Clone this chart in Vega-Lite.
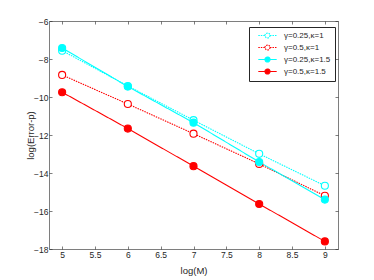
{
  "$schema": "https://vega.github.io/schema/vega-lite/v6.json",
  "autosize": "none",
  "width": 289,
  "height": 228,
  "padding": {"left": 49, "top": 21, "right": 36, "bottom": 31},
  "background": "white",
  "config": {
    "view": {"stroke": null},
    "font": "Liberation Sans",
    "axis": {
      "domainColor": "#262626",
      "domainWidth": 0.6,
      "tickColor": "#262626",
      "tickWidth": 0.6,
      "tickSize": -3,
      "labelColor": "#262626",
      "labelFontSize": 8.5,
      "labelFont": "Liberation Sans",
      "titleFont": "Liberation Sans",
      "titleFontWeight": "normal",
      "titleFontSize": 9.5,
      "titleColor": "#262626",
      "grid": false
    }
  },
  "data": {
    "values": [
      {"series": "γ=0.25,κ=1", "x": 5, "y": -7.56},
      {"series": "γ=0.25,κ=1", "x": 6, "y": -9.42},
      {"series": "γ=0.25,κ=1", "x": 7, "y": -11.22},
      {"series": "γ=0.25,κ=1", "x": 8, "y": -12.99},
      {"series": "γ=0.25,κ=1", "x": 9, "y": -14.67},
      {"series": "γ=0.5,κ=1", "x": 5, "y": -8.84},
      {"series": "γ=0.5,κ=1", "x": 6, "y": -10.37},
      {"series": "γ=0.5,κ=1", "x": 7, "y": -11.93},
      {"series": "γ=0.5,κ=1", "x": 8, "y": -13.52},
      {"series": "γ=0.5,κ=1", "x": 9, "y": -15.2},
      {"series": "γ=0.25,κ=1.5", "x": 5, "y": -7.42},
      {"series": "γ=0.25,κ=1.5", "x": 6, "y": -9.45},
      {"series": "γ=0.25,κ=1.5", "x": 7, "y": -11.35},
      {"series": "γ=0.25,κ=1.5", "x": 8, "y": -13.42},
      {"series": "γ=0.25,κ=1.5", "x": 9, "y": -15.4},
      {"series": "γ=0.5,κ=1.5", "x": 5, "y": -9.75},
      {"series": "γ=0.5,κ=1.5", "x": 6, "y": -11.66},
      {"series": "γ=0.5,κ=1.5", "x": 7, "y": -13.64},
      {"series": "γ=0.5,κ=1.5", "x": 8, "y": -15.63},
      {"series": "γ=0.5,κ=1.5", "x": 9, "y": -17.6}
    ]
  },
  "encoding": {
    "x": {"field": "x", "type": "quantitative", "scale": {"domain": [4.8, 9.2], "nice": false, "zero": false}},
    "y": {"field": "y", "type": "quantitative", "scale": {"domain": [-18, -6], "nice": false, "zero": false}}
  },
  "layer": [
    {
      "mark": {"type": "line", "strokeWidth": 1.1},
      "encoding": {
        "x": {"field": "x", "type": "quantitative", "axis": {"title": "log(M)", "format": "~g", "values": [5, 5.5, 6, 6.5, 7, 7.5, 8, 8.5, 9], "labelPadding": 4, "titlePadding": 7}},
        "y": {"field": "y", "type": "quantitative", "axis": {"title": "log(Error-p)", "values": [-18, -16, -14, -12, -10, -8, -6], "labelPadding": 4, "titlePadding": -2}},
        "color": {
          "field": "series", "type": "nominal",
          "scale": {"domain": ["γ=0.25,κ=1", "γ=0.5,κ=1", "γ=0.25,κ=1.5", "γ=0.5,κ=1.5"], "range": ["#00FFFF", "#FF0000", "#00FFFF", "#FF0000"]},
          "legend": {
            "title": null,
            "orient": "none",
            "legendX": 200,
            "legendY": 6,
            "fillColor": "white",
            "strokeColor": "#262626",
            "padding": 4,
            "symbolType": "M-2.6,0H-0.7M0.7,0H2.6M0.7,0A0.7,0.7 0 1 1 -0.7,0A0.7,0.7 0 1 1 0.7,0Z",
            "symbolSize": 100,
            "symbolStrokeWidth": 1.2,
            "symbolOffset": 10,
            "labelOffset": 12,
            "labelFontSize": 8,
            "labelColor": "#262626",
            "rowPadding": 1,
            "encode": {
              "symbols": {
                "update": {
                  "stroke": {"signal": "indexof(datum.value, '0.25') >= 0 ? '#00FFFF' : '#FF0000'"},
                  "fill": {"signal": "indexof(datum.value, '1.5') >= 0 ? (indexof(datum.value, '0.25') >= 0 ? '#00FFFF' : '#FF0000') : 'white'"},
                  "strokeDash": {"signal": "indexof(datum.value, '1.5') >= 0 ? [1, 0] : [1.5, 1]"},
                  "strokeWidth": {"value": 1.2},
                  "opacity": {"value": 1},
                  "strokeOpacity": {"value": 1}
                }
              }
            }
          }
        },
        "strokeDash": {
          "field": "series", "type": "nominal",
          "scale": {"domain": ["γ=0.25,κ=1", "γ=0.5,κ=1", "γ=0.25,κ=1.5", "γ=0.5,κ=1.5"], "range": [[1.5, 1], [1.5, 1], [1, 0], [1, 0]]},
          "legend": null
        }
      }
    },
    {
      "mark": {"type": "point", "shape": "circle", "strokeWidth": 1.1, "opacity": 1},
      "encoding": {
        "x": {"field": "x", "type": "quantitative", "axis": {"orient": "top", "labels": false, "title": null, "values": [5, 5.5, 6, 6.5, 7, 7.5, 8, 8.5, 9]}},
        "y": {"field": "y", "type": "quantitative", "axis": {"orient": "right", "labels": false, "title": null, "values": [-18, -16, -14, -12, -10, -8, -6]}},
        "color": {"field": "series", "type": "nominal"},
        "fill": {
          "field": "series", "type": "nominal",
          "scale": {"domain": ["γ=0.25,κ=1", "γ=0.5,κ=1", "γ=0.25,κ=1.5", "γ=0.5,κ=1.5"], "range": ["white", "white", "#00FFFF", "#FF0000"]},
          "legend": null
        },
        "size": {
          "field": "series", "type": "nominal",
          "scale": {"domain": ["γ=0.25,κ=1", "γ=0.5,κ=1", "γ=0.25,κ=1.5", "γ=0.5,κ=1.5"], "range": [50, 50, 18, 18]},
          "legend": null
        }
      }
    }
  ],
  "resolve": {"axis": {"x": "independent", "y": "independent"}}
}
